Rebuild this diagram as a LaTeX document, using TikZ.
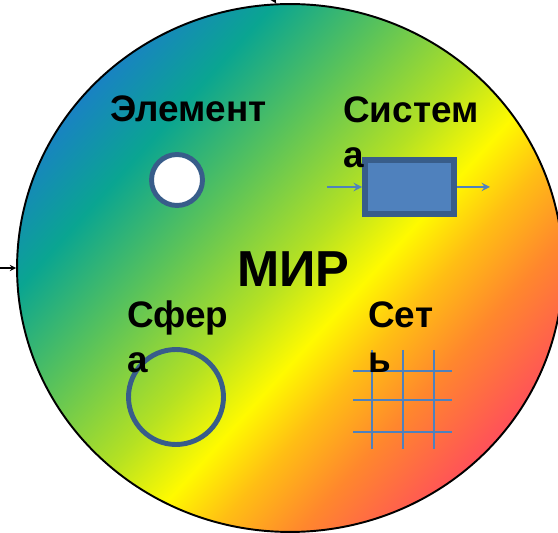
\documentclass[tikz,border=0pt]{standalone}
\usepackage{fontspec}
\setsansfont{Liberation Sans}
\usetikzlibrary{shapes.geometric}
\definecolor{mblue}{RGB}{25,130,195}
\definecolor{mteal}{RGB}{10,165,145}
\definecolor{mgreen}{RGB}{90,195,90}
\definecolor{mlime}{RGB}{180,225,35}
\definecolor{myellow}{RGB}{255,250,0}
\definecolor{mgold}{RGB}{255,190,20}
\definecolor{morange}{RGB}{255,135,45}
\definecolor{mred}{RGB}{255,80,90}
\definecolor{offblue}{RGB}{79,129,189}
\definecolor{edgeblue}{RGB}{56,93,138}
\pgfdeclarehorizontalshading{mirshade}{100bp}{color(0bp)=(mblue); color(25bp)=(mblue);
  color(32.5bp)=(mteal); color(41bp)=(mgreen); color(50bp)=(mlime); color(56bp)=(myellow);
  color(61bp)=(mgold); color(67bp)=(morange); color(75bp)=(mred); color(100bp)=(mred)}

\begin{document}
\begin{tikzpicture}[x=0.02cm, y=0.02cm, >=stealth,
    world/.style={ellipse, draw=black, line width=1.1pt,
      minimum width=10.92cm, minimum height=10.56cm, inner sep=0},
    lbl/.style={font=\sffamily\bfseries\fontsize{21}{26}\selectfont, inner sep=0,
      align=left, anchor=base west},
    biglbl/.style={font=\sffamily\bfseries\fontsize{28.8}{34}\selectfont, inner sep=0,
      anchor=base west},
    dot/.style={circle, draw=edgeblue, fill=white, line width=2.8pt,
      minimum size=1.02cm, inner sep=0},
    ring/.style={circle, draw=edgeblue, line width=2.8pt, minimum size=1.9cm, inner sep=0},
    box/.style={draw=edgeblue, fill=offblue, line width=3.4pt,
      minimum width=1.78cm, minimum height=1.08cm, inner sep=0},
    flow/.style={->, offblue, line width=1.1pt},
    mesh/.style={offblue, line width=1.7pt}]
  \useasboundingbox (0,0) rectangle (558,-533);
  %--- World: rainbow fill along the diagonal
  \begin{scope}
    \clip (290,-268) ellipse [x radius=273, y radius=264];
    \begin{scope}[transform canvas={rotate around={-42:(290,-268)}}]
      \shade[shading=mirshade] (21,-568) rectangle (559,32);
    \end{scope}
  \end{scope}
  \node[world] (world) at (290,-268) {};
  \coordinate (topin) at (274,0);
  \coordinate (leftin) at (0,-268);
  \draw[->, line width=0.6pt] (topin) -- (world.93.5);
  \draw[->, line width=0.6pt] (leftin) -- (world.west);
  %--- Element
  \node[dot] (elem) at (177,-180) {};
  %--- System
  \node[box] (sys) at (409.5,-187) {};
  \coordinate (sysin) at (327,-187);
  \coordinate (sysout) at (490,-187);
  \draw[flow] (sysin) -- (sys);
  \draw[flow] (sys) -- (sysout);
  %--- Sphere
  \node[ring] (sph) at (176,-397) {};
  %--- Net
  \foreach \x in {372,403,434}
    \draw[mesh] (\x,-350) -- (\x,-449);
  \foreach \y in {371,400,432}
    \draw[mesh] (353,-\y) -- (452,-\y);
  %--- Labels (base = last line)
  \node[lbl] (elemlbl) at (110,-122) {Элемент};
  \node[lbl] (syslbl) at (343,-168) {Систем\\а};
  \node[biglbl] (mir) at (237,-287) {МИР};
  \node[lbl] (sphlbl) at (127,-373) {Сфер\\а};
  \node[lbl] (netlbl) at (368,-373) {Сет\\ь};
\end{tikzpicture}
\end{document}
